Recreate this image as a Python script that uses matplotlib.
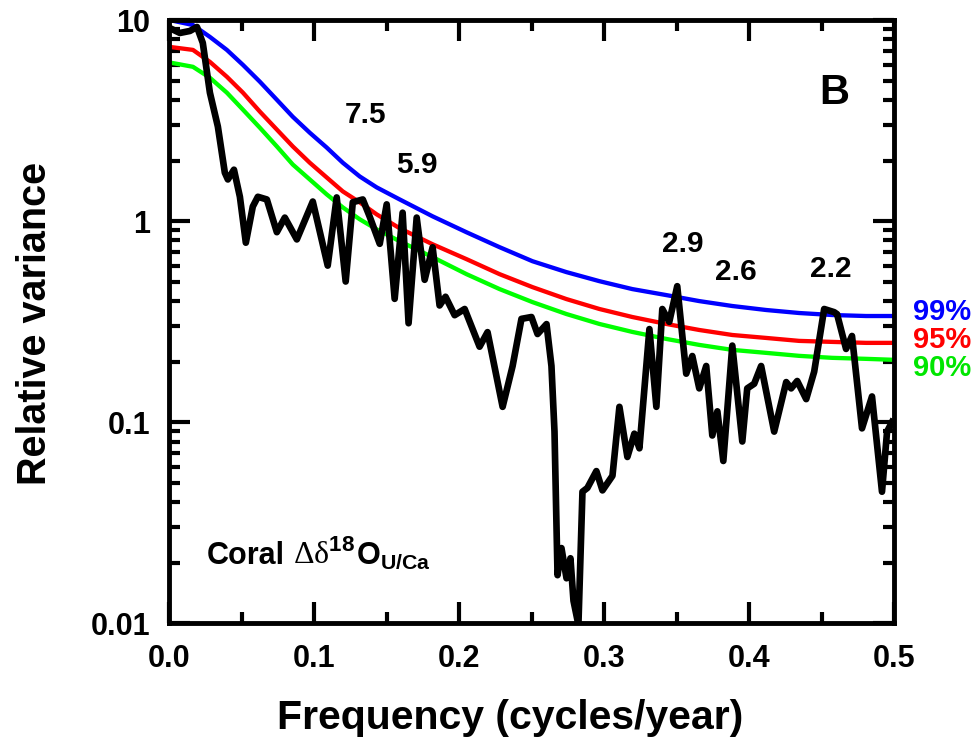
import numpy as np
import matplotlib
matplotlib.use("Agg")
import matplotlib.pyplot as plt
from matplotlib.ticker import FixedLocator, FixedFormatter, LogLocator, NullFormatter
from matplotlib.offsetbox import TextArea, HPacker, AnnotationBbox

plt.rcParams['font.family'] = ['Liberation Sans', 'DejaVu Sans']
plt.rcParams['font.weight'] = 'bold'
plt.rcParams['mathtext.fontset'] = 'custom'
plt.rcParams['mathtext.rm'] = 'Liberation Sans:bold'
plt.rcParams['mathtext.bf'] = 'Liberation Sans:bold'
plt.rcParams['mathtext.it'] = 'Liberation Sans:bold'

# ---- data ----
freq = [0.0, 0.0072, 0.0141, 0.019, 0.023, 0.0279, 0.0334, 0.0382, 0.0403, 0.0445,
        0.0486, 0.0527, 0.0575, 0.061, 0.0672, 0.0741, 0.0796, 0.0879, 0.0989, 0.1092,
        0.1154, 0.1216, 0.1265, 0.1334, 0.1382, 0.1451, 0.1499, 0.1554, 0.1609, 0.165,
        0.1706, 0.1761, 0.1816, 0.1864, 0.1905, 0.1968, 0.2037, 0.214, 0.2195, 0.2299,
        0.2368, 0.2429, 0.2498, 0.254, 0.2602, 0.2636, 0.2657, 0.2678, 0.2705, 0.274,
        0.2767, 0.2788, 0.2822, 0.285, 0.2884, 0.2946, 0.2988, 0.3057, 0.3105, 0.316,
        0.3208, 0.3243, 0.3312, 0.336, 0.3401, 0.3449, 0.3504, 0.3566, 0.3608, 0.3656,
        0.3704, 0.3746, 0.3781, 0.3822, 0.3884, 0.3953, 0.3987, 0.4035, 0.4083, 0.4173,
        0.4256, 0.429, 0.4332, 0.4394, 0.4449, 0.4518, 0.4587, 0.4607, 0.4669, 0.471,
        0.4779, 0.4848, 0.4917, 0.4952, 0.4986]
variance = [9.13, 8.62, 8.82, 9.23, 7.69, 4.35, 2.95, 1.74, 1.61, 1.80,
            1.32, 0.78, 1.18, 1.32, 1.28, 0.88, 1.04, 0.81, 1.25, 0.60,
            1.31, 0.50, 1.24, 1.28, 1.05, 0.77, 1.21, 0.41, 1.10, 0.31,
            1.04, 0.51, 0.74, 0.38, 0.42, 0.34, 0.365, 0.237, 0.28, 0.119,
            0.19, 0.326, 0.333, 0.274, 0.307, 0.19, 0.0896, 0.0173, 0.0236, 0.0167,
            0.021, 0.0129, 0.0098, 0.045, 0.047, 0.057, 0.0457, 0.054, 0.119, 0.067,
            0.0875, 0.074, 0.29, 0.119, 0.365, 0.315, 0.474, 0.174, 0.213, 0.147,
            0.19, 0.0857, 0.113, 0.064, 0.24, 0.08, 0.147, 0.155, 0.19, 0.0896,
            0.158, 0.147, 0.16, 0.13, 0.178, 0.365, 0.352, 0.344, 0.231, 0.268,
            0.093, 0.134, 0.045, 0.0896, 0.1]

sig_freq = [0.0, 0.0162, 0.0279, 0.0396, 0.0507, 0.0624, 0.0741, 0.0851, 0.0968, 0.1085,
            0.1196, 0.1313, 0.1430, 0.1589, 0.1816, 0.2050, 0.2278, 0.2505, 0.2739, 0.2967,
            0.3194, 0.3429, 0.3656, 0.3884, 0.4118, 0.4345, 0.4573, 0.4807, 0.5]
sig99 = [10.0, 9.44, 8.24, 7.10, 5.98, 4.93, 4.01, 3.30, 2.75, 2.32,
         1.95, 1.666, 1.47, 1.28, 1.055, 0.879, 0.741, 0.631, 0.557, 0.502,
         0.4585, 0.428, 0.3996, 0.3777, 0.3608, 0.3486, 0.3407, 0.3368, 0.3368]
sig95 = [7.35, 7.10, 6.19, 5.22, 4.35, 3.50, 2.85, 2.35, 1.95, 1.647,
         1.404, 1.238, 1.079, 0.920, 0.766, 0.646, 0.544, 0.469, 0.409, 0.365,
         0.333, 0.3075, 0.287, 0.271, 0.262, 0.2533, 0.2504, 0.2476, 0.2476]
sig90 = [6.15, 5.85, 5.16, 4.35, 3.58, 2.91, 2.35, 1.91, 1.61, 1.357,
         1.169, 1.02, 0.909, 0.793, 0.661, 0.544, 0.4585, 0.395, 0.3446, 0.3075,
         0.2807, 0.259, 0.2419, 0.2285, 0.2208, 0.2134, 0.2086, 0.2062, 0.2039]

peak_labels = ["7.5", "5.9", "2.9", "2.6", "2.2"]
peak_x = [0.135, 0.171, 0.354, 0.391, 0.4565]
peak_y = [3.38, 1.91, 0.766, 0.557, 0.577]

xticks = [0.0, 0.1, 0.2, 0.3, 0.4, 0.5]
xticklabels = ["0.0", "0.1", "0.2", "0.3", "0.4", "0.5"]
yticks = [0.01, 0.1, 1, 10]
yticklabels = ["0.01", "0.1", "1", "10"]

# ---- figure ----
fig = plt.figure(figsize=(9.79, 7.52), dpi=100)
ax = fig.add_axes([0.1731, 0.1715, 0.7401, 0.8019])

ax.plot(sig_freq, sig99, color=(0, 0, 1), lw=3.1, solid_capstyle='butt', zorder=2)
ax.plot(sig_freq, sig95, color=(1, 0, 0), lw=3.1, solid_capstyle='butt', zorder=2)
ax.plot(sig_freq, sig90, color=(0, 1, 0), lw=3.1, solid_capstyle='butt', zorder=2)
ax.plot(freq, variance, color='black', lw=4.8, solid_joinstyle='round', zorder=3)

ax.set_yscale('log')
ax.set_xlim(0, 0.5)
ax.set_ylim(0.01, 10)

ax.xaxis.set_major_locator(FixedLocator(xticks))
ax.xaxis.set_major_formatter(FixedFormatter(xticklabels))
ax.xaxis.set_minor_locator(FixedLocator([0.05, 0.15, 0.25, 0.35, 0.45]))
ax.yaxis.set_major_locator(FixedLocator(yticks))
ax.yaxis.set_major_formatter(FixedFormatter(yticklabels))
ax.yaxis.set_minor_locator(LogLocator(base=10, subs=np.arange(2, 10)))
ax.yaxis.set_minor_formatter(NullFormatter())

ax.tick_params(which='both', direction='in', top=True, right=True, width=3, labelsize=22)
ax.tick_params(which='major', length=15)
ax.tick_params(which='minor', length=8)
ax.tick_params(axis='x', pad=15)
ax.tick_params(axis='y', pad=14)
for lab in ax.get_xticklabels() + ax.get_yticklabels():
    lab.set_fontweight('bold')
for sp in ax.spines.values():
    sp.set_linewidth(3.5)

ax.set_xlabel("Frequency (cycles/year)", fontsize=29.5, fontweight='bold')
ax.xaxis.set_label_coords(0.47, -0.158)
ax.xaxis.label.set_va('center')
ax.set_ylabel("Relative variance", fontsize=28.5, fontweight='bold')
ax.yaxis.set_label_coords(-0.186, 0.497)
ax.yaxis.label.set_va('center')

for t, x, y in zip(peak_labels, peak_x, peak_y):
    ax.text(x, y, t, fontsize=21.5, fontweight='bold', ha='center', va='center')

ax.text(0.459, 4.35, "B", fontsize=30, fontweight='bold', ha='center', va='center')

# series label: bold sans "Coral", serif Greek, bold superscript/subscript
greek_sup = TextArea("\u0394\u03b4" + r"$^{18}$",
                     textprops=dict(fontsize=23, fontweight='normal', family='Liberation Serif'))
o_sub = TextArea(r"O$_{\mathrm{U/Ca}}$",
                 textprops=dict(fontsize=22, fontweight='bold', family='Liberation Sans'))
coral = TextArea("Coral", textprops=dict(fontsize=22, fontweight='bold', family='Liberation Sans'))
inner = HPacker(children=[greek_sup, o_sub], align='baseline', pad=0, sep=0)
box = HPacker(children=[coral, inner], align='baseline', pad=0, sep=6)
ab = AnnotationBbox(box, (0.052, 0.112), xycoords='axes fraction', box_alignment=(0, 0.5),
                    frameon=False, pad=0)
ax.add_artist(ab)

fig.text(0.9326, 0.585, "99%", color=(0, 0, 1), fontsize=21, fontweight='bold', ha='left', va='center')
fig.text(0.9326, 0.548, "95%", color=(1, 0, 0), fontsize=21, fontweight='bold', ha='left', va='center')
fig.text(0.9326, 0.511, "90%", color=(0, 0.9, 0), fontsize=21, fontweight='bold', ha='left', va='center')

fig.savefig("out.png", dpi=100)
